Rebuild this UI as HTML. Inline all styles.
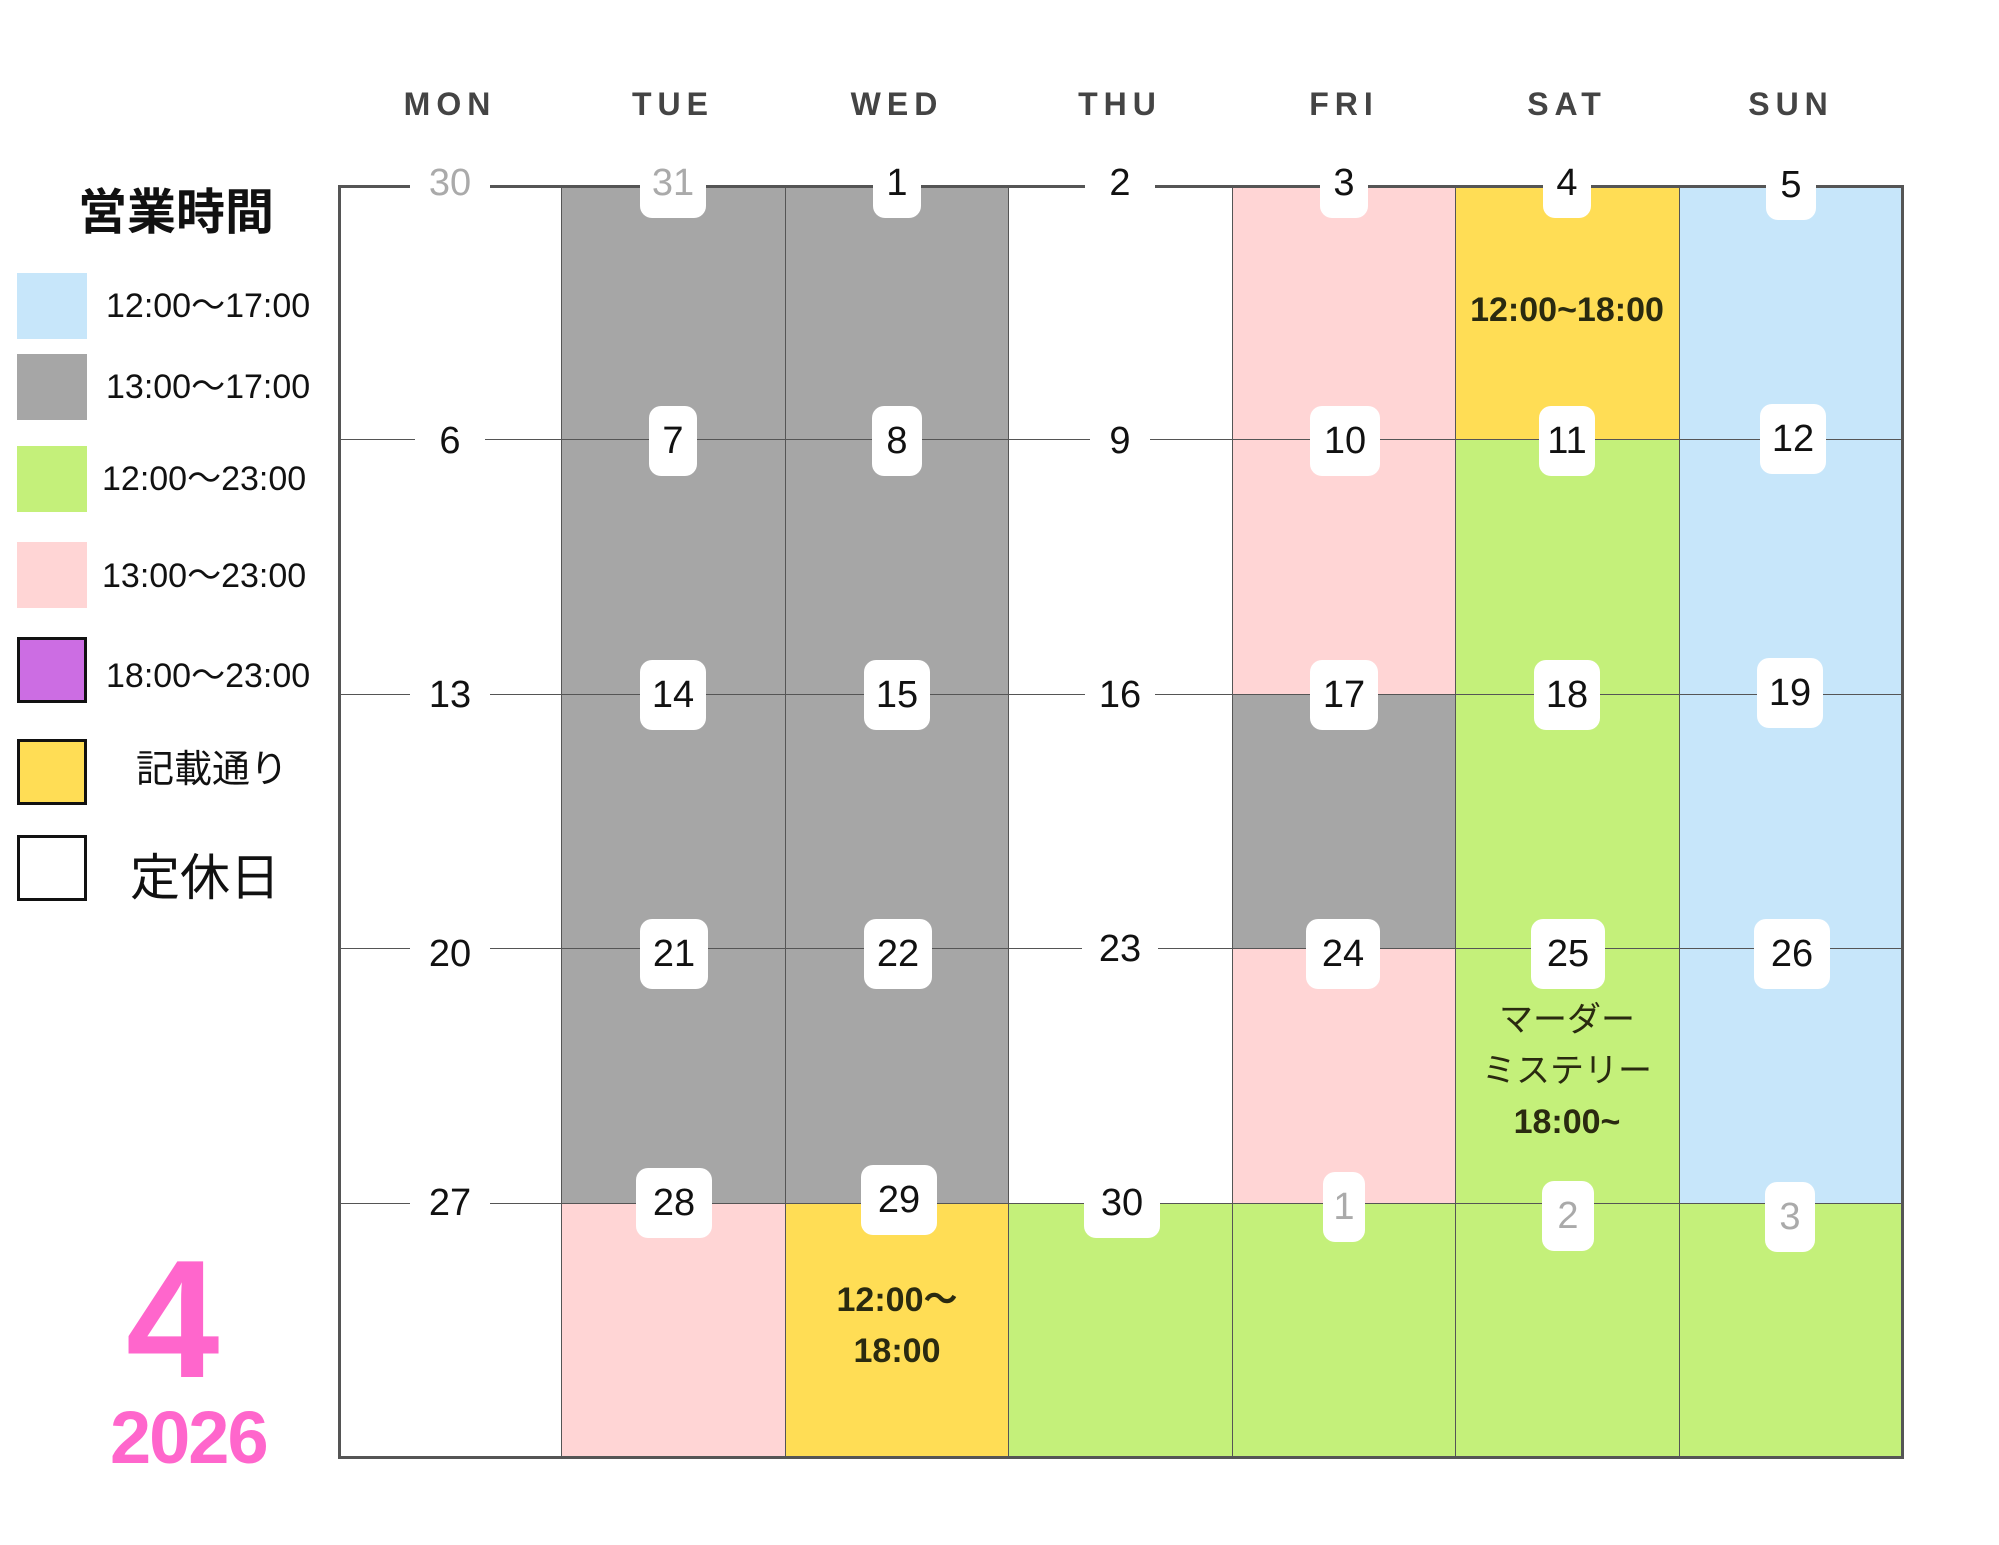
<!DOCTYPE html>
<html><head><meta charset="utf-8"><style>
*{margin:0;padding:0;box-sizing:border-box}
body{width:1999px;height:1545px;background:#fff;position:relative;overflow:hidden;font-family:"Liberation Sans","Noto Sans CJK JP",sans-serif;color:#111}
.a{position:absolute}
.h{position:absolute;top:86px;width:224px;text-align:center;font-weight:bold;font-size:32px;letter-spacing:6px;color:#444}
.c{position:absolute;width:224px;height:255px}
.vl{position:absolute;top:185px;height:1272px;width:2px;background:#555}
.hl{position:absolute;left:338px;width:1564px;height:2px;background:#555}
.n{position:absolute;background:#fff;border-radius:12px;font-size:38px;text-align:center;line-height:70px;height:70px}
.g{color:#aaa}
.lg{position:absolute;left:106px;font-size:34px;line-height:40px}
.sw{position:absolute;left:17px;width:70px;height:66px}
.t{position:absolute;text-align:center;width:224px;font-size:34px;line-height:51px}
</style></head><body>
<div class="h" style="left:338px">MON</div>
<div class="h" style="left:561px">TUE</div>
<div class="h" style="left:785px">WED</div>
<div class="h" style="left:1008px">THU</div>
<div class="h" style="left:1232px">FRI</div>
<div class="h" style="left:1455px">SAT</div>
<div class="h" style="left:1679px">SUN</div>

<!-- cells -->
<div class="c" style="left:561px;top:185px;height:1018px;background:#a6a6a6"></div>
<div class="c" style="left:561px;top:1203px;background:#ffd5d5"></div>
<div class="c" style="left:785px;top:185px;height:1018px;background:#a6a6a6"></div>
<div class="c" style="left:785px;top:1203px;background:#ffdd55"></div>
<div class="c" style="left:1008px;top:1203px;background:#c4f07a"></div>
<div class="c" style="left:1232px;top:185px;height:509px;background:#ffd5d5"></div>
<div class="c" style="left:1232px;top:694px;background:#a6a6a6"></div>
<div class="c" style="left:1232px;top:948px;background:#ffd5d5"></div>
<div class="c" style="left:1232px;top:1203px;background:#c4f07a"></div>
<div class="c" style="left:1455px;top:185px;background:#ffdd55"></div>
<div class="c" style="left:1455px;top:439px;height:1018px;background:#c4f07a"></div>
<div class="c" style="left:1679px;top:185px;height:1018px;background:#c7e6fa"></div>
<div class="c" style="left:1679px;top:1203px;background:#c4f07a"></div>

<!-- lines -->
<div class="vl" style="left:561px;width:1px"></div>
<div class="vl" style="left:785px;width:1px"></div>
<div class="vl" style="left:1008px;width:1px"></div>
<div class="vl" style="left:1232px;width:1px"></div>
<div class="vl" style="left:1455px;width:1px"></div>
<div class="vl" style="left:1679px;width:1px"></div>
<div class="hl" style="top:439px;height:1px"></div>
<div class="hl" style="top:694px;height:1px"></div>
<div class="hl" style="top:948px;height:1px"></div>
<div class="hl" style="top:1203px;height:1px"></div>
<div class="a" style="left:338px;top:185px;width:1566px;height:1274px;border:3px solid #555"></div>

<!-- texts in cells -->
<div class="t" style="left:1455px;top:285px;font-weight:bold;color:#2a2a10">12:00~18:00</div>
<div class="t" style="left:785px;top:1275px;font-weight:bold;color:#2a2a10">12:00〜<br>18:00</div>
<div class="t" style="left:1455px;top:995px;color:#2a2a10">マーダー<br>ミステリー<br><b>18:00~</b></div>

<!-- numbers -->
<div class="n g" style="left:410px;top:148px;width:80px">30</div>
<div class="n g" style="left:640px;top:148px;width:66px">31</div>
<div class="n" style="left:873px;top:148px;width:48px">1</div>
<div class="n" style="left:1085px;top:148px;width:70px">2</div>
<div class="n" style="left:1320px;top:148px;width:48px">3</div>
<div class="n" style="left:1543px;top:148px;width:48px">4</div>
<div class="n" style="left:1766px;top:150px;width:50px">5</div>

<div class="n" style="left:415px;top:406px;width:70px">6</div>
<div class="n" style="left:649px;top:406px;width:48px">7</div>
<div class="n" style="left:872px;top:406px;width:50px">8</div>
<div class="n" style="left:1090px;top:406px;width:60px">9</div>
<div class="n" style="left:1310px;top:406px;width:70px">10</div>
<div class="n" style="left:1539px;top:406px;width:56px">11</div>
<div class="n" style="left:1760px;top:404px;width:66px">12</div>

<div class="n" style="left:410px;top:660px;width:80px">13</div>
<div class="n" style="left:640px;top:660px;width:66px">14</div>
<div class="n" style="left:864px;top:660px;width:66px">15</div>
<div class="n" style="left:1085px;top:660px;width:70px">16</div>
<div class="n" style="left:1310px;top:660px;width:68px">17</div>
<div class="n" style="left:1534px;top:660px;width:66px">18</div>
<div class="n" style="left:1757px;top:658px;width:66px">19</div>

<div class="n" style="left:410px;top:919px;width:80px">20</div>
<div class="n" style="left:640px;top:919px;width:68px">21</div>
<div class="n" style="left:864px;top:919px;width:68px">22</div>
<div class="n" style="left:1082px;top:914px;width:76px">23</div>
<div class="n" style="left:1306px;top:919px;width:74px">24</div>
<div class="n" style="left:1531px;top:919px;width:74px">25</div>
<div class="n" style="left:1754px;top:919px;width:76px">26</div>

<div class="n" style="left:410px;top:1168px;width:80px">27</div>
<div class="n" style="left:636px;top:1168px;width:76px">28</div>
<div class="n" style="left:861px;top:1165px;width:76px">29</div>
<div class="n" style="left:1084px;top:1168px;width:76px">30</div>
<div class="n g" style="left:1323px;top:1172px;width:42px">1</div>
<div class="n g" style="left:1542px;top:1181px;width:52px">2</div>
<div class="n g" style="left:1765px;top:1182px;width:50px">3</div>

<!-- legend -->
<div class="a" style="left:78px;top:183px;font-size:49px;font-weight:bold;line-height:60px">営業時間</div>
<div class="sw" style="top:273px;background:#c7e6fa"></div>
<div class="lg" style="top:286px">12:00〜17:00</div>
<div class="sw" style="top:354px;background:#a6a6a6"></div>
<div class="lg" style="top:367px">13:00〜17:00</div>
<div class="sw" style="top:446px;background:#c4f07a"></div>
<div class="lg" style="top:459px;left:102px">12:00〜23:00</div>
<div class="sw" style="top:542px;background:#ffd5d5"></div>
<div class="lg" style="top:556px;left:102px">13:00〜23:00</div>
<div class="sw" style="top:637px;background:#cc6de3;border:3px solid #111"></div>
<div class="lg" style="top:656px">18:00〜23:00</div>
<div class="sw" style="top:739px;background:#ffdd55;border:3px solid #111"></div>
<div class="lg" style="top:750px;left:136px;font-size:38px">記載通り</div>
<div class="sw" style="top:835px;background:#fff;border:3px solid #111"></div>
<div class="lg" style="top:848px;left:130px;font-size:50px;line-height:60px">定休日</div>

<div class="a" style="left:126px;top:1235px;font-size:168px;font-weight:bold;color:#ff66cc;line-height:168px">4</div>
<div class="a" style="left:110px;top:1398px;font-size:74px;font-weight:bold;color:#ff66cc;line-height:80px;letter-spacing:-2px">2026</div>
</body></html>
